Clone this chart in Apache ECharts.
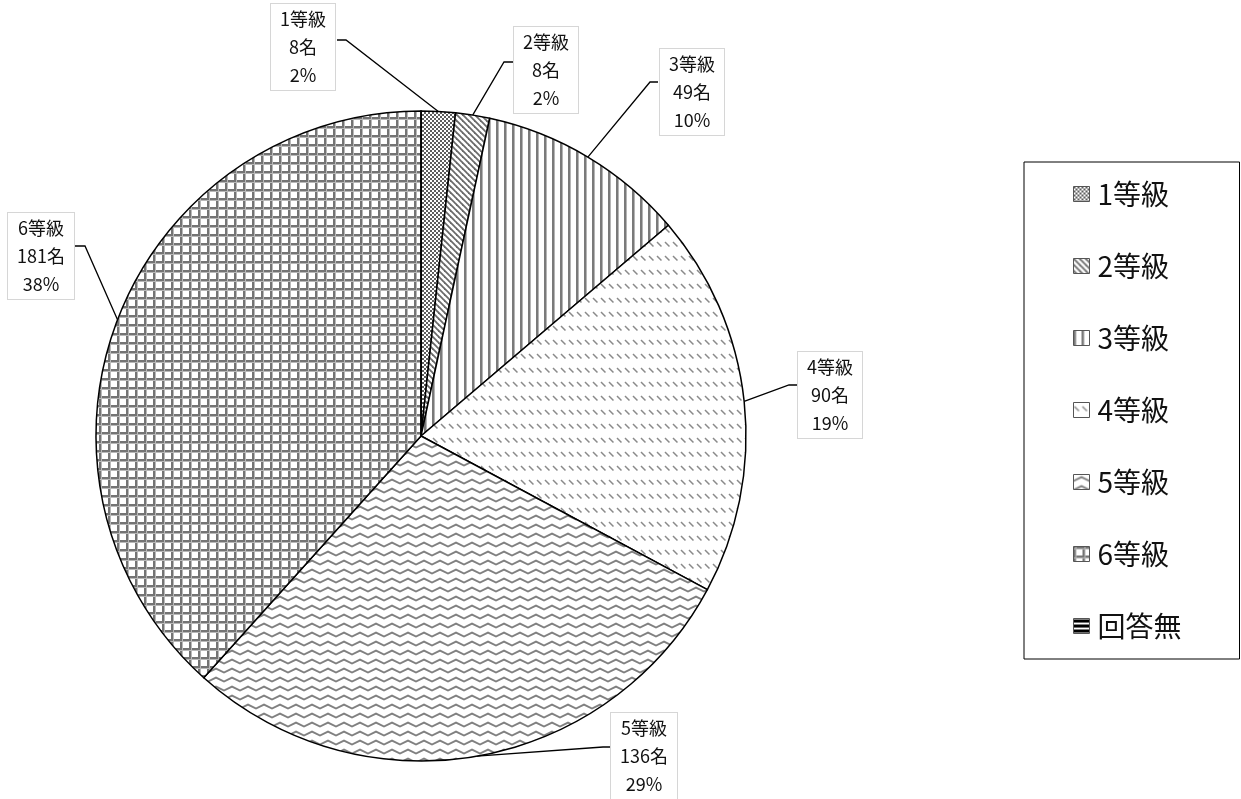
<!DOCTYPE html>
<html>
<head>
<meta charset="utf-8">
<script src="https://cdn.jsdelivr.net/npm/echarts@6/dist/echarts.min.js"></script>
<style>
html,body{margin:0;padding:0;background:#fff;}
#chart{width:1241px;height:799px;}
</style>
</head>
<body>
<div id="chart"></div>
<script>
// ---- data ----
const categories = ['1等級', '2等級', '3等級', '4等級', '5等級', '6等級', '回答無'];
const counts = [8, 8, 49, 90, 136, 181, 0];

// ---- label layout (center x, center y, elbow x, elbow y, attach x, attach y) ----
const labelBoxes = [
  [303, 47, 346, 40, 337, 40],
  [546, 70, 504, 62, 513, 62],
  [692, 92, 650, 82, 658, 82],
  [830, 395, 789, 385, 797, 385],
  [644, 756, 603, 747, 611, 747],
  [41, 256, 85, 246, 75, 246]
];
const CX = 421, CY = 436, R = 325;

// ---- patterns ----
function makePattern(w, h, draw) {
  const c = document.createElement('canvas');
  c.width = w; c.height = h;
  const g = c.getContext('2d');
  g.fillStyle = '#fff';
  g.fillRect(0, 0, w, h);
  draw(g, w, h);
  return { image: c, repeat: 'repeat' };
}
const patterns = [
  makePattern(4, 4, g => { g.fillStyle = '#5e5e5e'; g.fillRect(0, 0, 2, 2); g.fillRect(2, 2, 2, 2); }),
  makePattern(6, 6, g => {
    g.strokeStyle = '#6a6a6a'; g.lineWidth = 1.8;
    for (const k of [-6, 0, 6]) { g.beginPath(); g.moveTo(k - 1, -1); g.lineTo(k + 7, 7); g.stroke(); }
  }),
  makePattern(8, 8, g => { g.fillStyle = '#7a7a7a'; g.fillRect(0, 0, 2, 8); g.fillStyle = '#b5b5b5'; g.fillRect(2, 0, 1, 8); }),
  makePattern(8, 14, g => {
    g.strokeStyle = '#8a8a8a'; g.lineWidth = 1.5;
    g.beginPath(); g.moveTo(1, 4); g.lineTo(5.5, 8.5); g.stroke();
  }),
  makePattern(16, 9, g => {
    g.strokeStyle = '#808080'; g.lineWidth = 2;
    g.beginPath(); g.moveTo(-8, 2.5); g.lineTo(0, 6.5); g.lineTo(8, 2.5); g.lineTo(16, 6.5); g.lineTo(24, 2.5); g.stroke();
  }),
  makePattern(9, 9, g => {
    g.fillStyle = '#747474'; g.fillRect(0, 0, 9, 2); g.fillRect(0, 0, 2, 9);
    g.fillStyle = '#b8b8b8'; g.fillRect(0, 2, 9, 1); g.fillRect(2, 0, 1, 9);
  }),
  makePattern(5, 5, g => { g.fillStyle = '#000'; g.fillRect(0, 1, 5, 3); })
];

const total = counts.reduce((a, b) => a + b, 0);
function edgePoint(i) {
  let before = 0;
  for (let k = 0; k < i; k++) before += counts[k];
  const frac = (before + counts[i] / 2) / total;
  const a = frac * 2 * Math.PI;
  return [CX + R * Math.sin(a), CY - R * Math.cos(a)];
}

const chart = echarts.init(document.getElementById('chart'), null, { renderer: 'canvas' });
chart.setOption({
  backgroundColor: '#fff',
  animation: false,
  legend: {
    orient: 'vertical',
    left: 1024,
    top: 162,
    data: categories,
    icon: 'rect',
    itemWidth: 16,
    itemHeight: 15,
    itemGap: 42,
    padding: [17, 58, 18, 49],
    borderColor: '#000',
    borderWidth: 1,
    selectedMode: false,
    itemStyle: { borderColor: '#555', borderWidth: 1 },
    textStyle: { fontFamily: 'Noto Sans CJK JP', fontSize: 28, lineHeight: 30, color: '#111', padding: [0, 0, 0, 3] }
  },
  series: [{
    type: 'pie',
    center: [CX, CY],
    radius: R,
    startAngle: 90,
    clockwise: true,
    avoidLabelOverlap: false,
    percentPrecision: 0,
    silent: true,
    emphasis: { disabled: true },
    itemStyle: { borderColor: '#000', borderWidth: 1.5 },
    label: {
      show: true,
      position: 'outside',
      formatter: '{b}\n{c}名\n{d}%',
      fontFamily: 'Noto Sans CJK JP',
      fontSize: 18,
      lineHeight: 28,
      color: '#111',
      align: 'center',
      backgroundColor: '#fff',
      borderColor: '#d6d6d6',
      borderWidth: 1,
      padding: [1, 9]
    },
    labelLine: { show: true, lineStyle: { color: '#000', width: 1.3 } },
    labelLayout: function (params) {
      const b = labelBoxes[params.dataIndex];
      if (!b) return {};
      const p0 = edgePoint(params.dataIndex);
      return {
        x: b[0], y: b[1], align: 'center', verticalAlign: 'middle',
        labelLinePoints: [p0, [b[2], b[3]], [b[4], b[5]]]
      };
    },
    data: categories.map((name, i) => {
      const item = { name: name, value: counts[i], itemStyle: { color: patterns[i] } };
      if (!counts[i]) { item.label = { show: false }; item.labelLine = { show: false }; }
      return item;
    })
  }]
});
</script>
</body>
</html>
